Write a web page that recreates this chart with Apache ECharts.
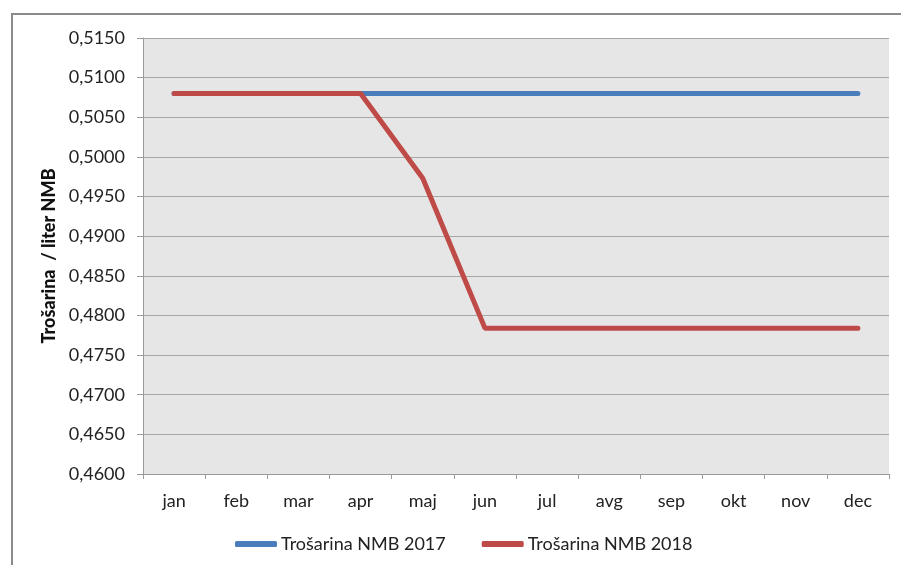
<!DOCTYPE html>
<html><head><meta charset="utf-8">
<script src="https://cdn.jsdelivr.net/npm/echarts@6/dist/echarts.min.js"></script>
<style>html,body{margin:0;padding:0;background:#fff}#c{width:901px;height:565px}</style>
</head><body><div id="c"></div>
<script>
const months = ['jan','feb','mar','apr','maj','jun','jul','avg','sep','okt','nov','dec'];
const s2017 = [0.5080,0.5080,0.5080,0.5080,0.5080,0.5080,0.5080,0.5080,0.5080,0.5080,0.5080,0.5080];
const s2018 = [0.5080,0.5080,0.5080,0.5080,0.4973,0.4784,0.4784,0.4784,0.4784,0.4784,0.4784,0.4784];
const names = ['Trošarina NMB 2017','Trošarina NMB 2018'];
const yAxisTitle = 'Trošarina  / liter NMB';
const FONT = 'Lato';
const chart = echarts.init(document.getElementById('c'), null, {renderer:'canvas'});
chart.setOption({
  animation:false,
  backgroundColor:'#fff',
  textStyle:{fontFamily:FONT},
  graphic:[{type:'rect',shape:{x:12,y:14,width:1000,height:1000},style:{fill:'none',stroke:'#8a8a8a',lineWidth:2},z:-1}],
  grid:{left:143,right:12,top:38,bottom:91,show:true,backgroundColor:'#e6e6e6',borderWidth:0},
  legend:{bottom:7,left:230,itemWidth:42,itemHeight:6,itemGap:36,icon:'roundRect',
    textStyle:{fontSize:18,color:'#222',fontFamily:FONT,padding:[0,0,0,-1]},
    data:names},
  xAxis:{type:'category',data:months,boundaryGap:true,
    axisLine:{lineStyle:{color:'#9a9a9a',width:1}},
    axisTick:{show:true,length:5,lineStyle:{color:'#9a9a9a'}},
    axisLabel:{fontSize:18,color:'#222',margin:18,fontFamily:FONT}},
  yAxis:{type:'value',min:0.46,max:0.515,interval:0.005,
    name:yAxisTitle,nameLocation:'middle',nameGap:83,nameRotate:90,
    nameTextStyle:{fontSize:18,fontWeight:900,color:'#111',fontFamily:FONT},
    axisLine:{show:true,lineStyle:{color:'#9a9a9a'}},
    axisTick:{show:true,length:6,lineStyle:{color:'#9a9a9a'}},
    splitLine:{lineStyle:{color:'#a6a6a6',width:1}},
    axisLabel:{fontSize:18,color:'#222',margin:18,fontFamily:FONT,
      formatter:v=>v.toFixed(4).replace('.',',')}},
  series:[
    {name:names[0],type:'line',data:s2017,symbol:'none',lineStyle:{color:'#4a7ebb',width:5,cap:'round'},itemStyle:{color:'#4a7ebb'}},
    {name:names[1],type:'line',data:s2018,symbol:'none',lineStyle:{color:'#be4b48',width:5,cap:'round'},itemStyle:{color:'#be4b48'}}
  ]
});
</script></body></html>
